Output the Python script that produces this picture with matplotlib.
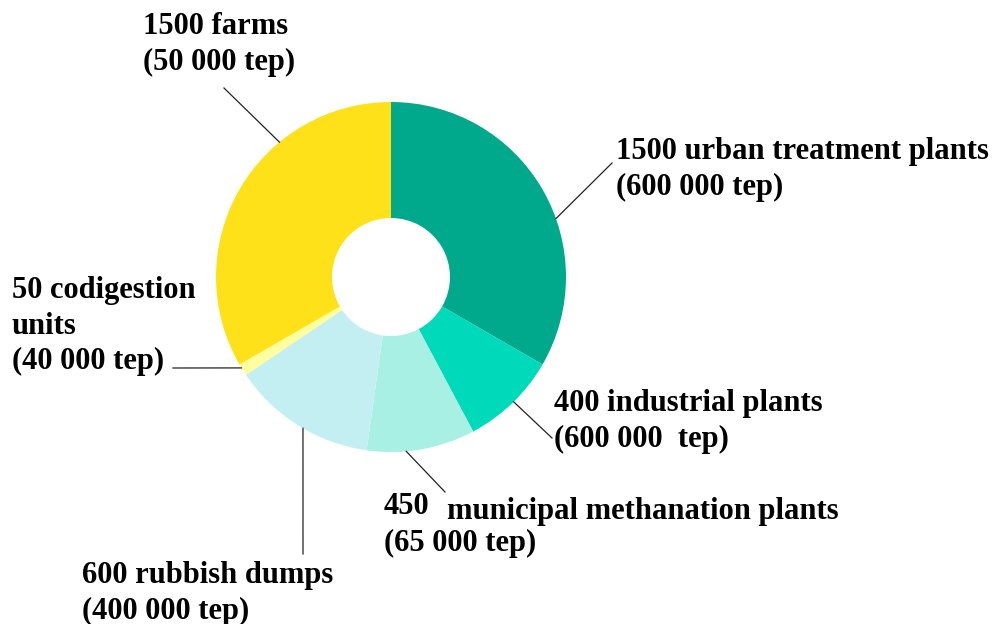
import numpy as np
import matplotlib.pyplot as plt

W, H = 997, 624

# number of units per biogas source (slice size); tep written in labels
sources = ["urban", "industrial", "municipal", "rubbish", "codigestion", "farms"]
units = [1500, 400, 450, 600, 50, 1500]
colors = ["#00A98C", "#00D9BA", "#A8F0E4", "#C4EFF2", "#FFFFA0", "#FFE119"]

labels = {
    "urban": "1500 urban treatment plants\n(600 000 tep)",
    "industrial": "400 industrial plants\n(600 000  tep)",
    "municipal": "(65 000 tep)",
    "rubbish": "600 rubbish dumps\n(400 000 tep)",
    "codigestion": "50 codigestion\nunits\n(40 000 tep)",
    "farms": "1500 farms\n(50 000 tep)",
}

center = (391, H - 277)
R = 175
ring = 116

fig = plt.figure(figsize=(W / 100, H / 100), dpi=100)
ax = fig.add_axes([0, 0, 1, 1])
ax.pie(units, colors=colors, startangle=90, counterclock=False,
       center=center, radius=R,
       wedgeprops=dict(width=ring, linewidth=0))
ax.set_xlim(0, W)
ax.set_ylim(0, H)
ax.set_aspect("equal")
ax.axis("off")

font = dict(family="Liberation Serif", weight="bold", size=22,
            color="black", va="top", ha="left", linespacing=1.3)

# label text positions (pixels, y measured from top) and leader lines
text_pos = {
    "farms": (143, 12),
    "urban": (616, 137),
    "codigestion": (12, 276),
    "industrial": (554, 389),
    "municipal": (384, 529),
    "rubbish": (82, 561),
}
leader_angle = {"farms": 129.6, "urban": 19.5, "industrial": -45.5,
                "municipal": -85, "rubbish": -120.2, "codigestion": -148.7}
leader_end = {"farms": (224, 88), "urban": (612, 163), "industrial": (552, 438),
              "municipal": (445, 492), "rubbish": (303, 554),
              "codigestion": (173, 368)}

for s in sources:
    x, y = text_pos[s]
    ax.text(x, H - y, labels[s], **font)
    a = np.radians(leader_angle[s])
    x0 = center[0] + R * np.cos(a)
    y0 = center[1] + R * np.sin(a)
    x1, y1 = leader_end[s]
    ax.plot([x0, x1], [y0, H - y1], color="#222222", lw=0.9)

ax.text(384, H - 492, "450", **font)
ax.text(447, H - 497, "municipal methanation plants", **font)

fig.savefig("out.png", dpi=100)
